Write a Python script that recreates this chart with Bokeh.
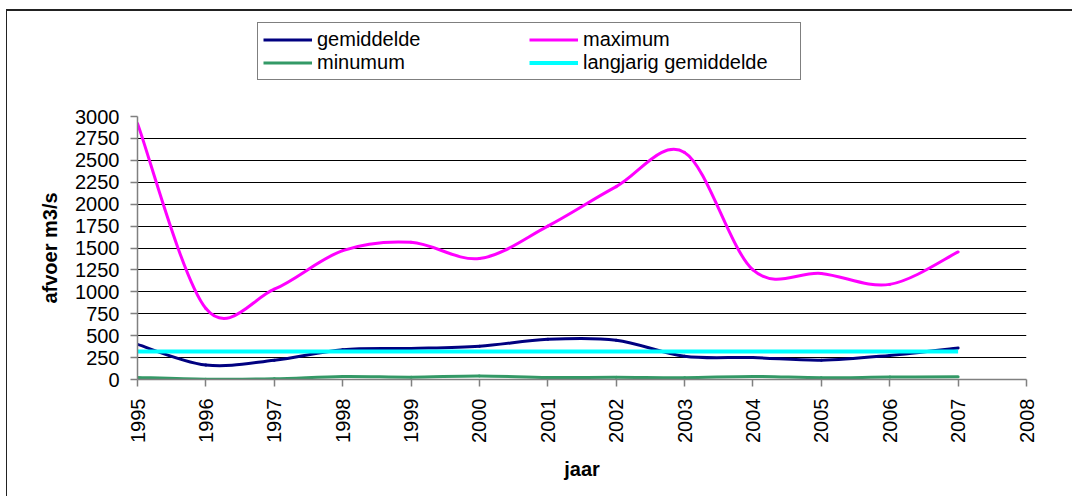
import math
from bokeh.plotting import figure
from bokeh.layouts import column
from bokeh.models import Range1d, FixedTicker, Legend, LegendItem
from bokeh.embed import file_html
from bokeh.resources import INLINE

# ---- data -------------------------------------------------------------
years = [1995, 1996, 1997, 1998, 1999, 2000, 2001, 2002, 2003, 2004, 2005, 2006, 2007]
gemiddelde = [400, 165, 220, 340, 355, 380, 458, 448, 265, 250, 220, 275, 360]
maximum = [2920, 810, 1030, 1470, 1565, 1380, 1750, 2200, 2590, 1250, 1210, 1085, 1455]
minumum = [23, 4, 8, 35, 27, 40, 23, 25, 20, 35, 20, 28, 30]
langjarig_gemiddelde = [318, 318, 318, 318, 318, 318, 318, 318, 318, 318, 318, 318, 318]

series_names = ["gemiddelde", "maximum", "minumum", "langjarig gemiddelde"]
series_colors = ["#000080", "#FF00FF", "#339966", "#00FFFF"]
series_widths = [3, 3, 3, 4]

x_ticks = [1995, 1996, 1997, 1998, 1999, 2000, 2001, 2002, 2003, 2004, 2005, 2006, 2007, 2008]
x_tick_labels = ["1995", "1996", "1997", "1998", "1999", "2000", "2001", "2002",
                 "2003", "2004", "2005", "2006", "2007", "2008"]
y_ticks = [0, 250, 500, 750, 1000, 1250, 1500, 1750, 2000, 2250, 2500, 2750, 3000]
y_tick_labels = ["0", "250", "500", "750", "1000", "1250", "1500", "1750", "2000",
                 "2250", "2500", "2750", "3000"]

FONT = "Liberation Sans"


def smooth_segments(xs, ys):
    """Excel-style smoothed line: cubic Bezier segments through the data points."""
    n = len(xs)
    seg = dict(x0=[], y0=[], x1=[], y1=[], cx0=[], cy0=[], cx1=[], cy1=[])
    for i in range(n - 1):
        im1 = max(i - 1, 0)
        ip2 = min(i + 2, n - 1)
        seg["x0"].append(xs[i]); seg["y0"].append(ys[i])
        seg["x1"].append(xs[i + 1]); seg["y1"].append(ys[i + 1])
        seg["cx0"].append(xs[i] + (xs[i + 1] - xs[im1]) / 6.0)
        seg["cy0"].append(ys[i] + (ys[i + 1] - ys[im1]) / 6.0)
        seg["cx1"].append(xs[i + 1] - (xs[ip2] - xs[i]) / 6.0)
        seg["cy1"].append(ys[i + 1] - (ys[ip2] - ys[i]) / 6.0)
    return seg


all_series = [gemiddelde, maximum, minumum, langjarig_gemiddelde]

# ---- legend strip (top); its frame is aligned with the chart frame ------
pl = figure(
    width=1065, height=75,
    x_range=Range1d(0, 1), y_range=Range1d(0, 1),
    output_backend="svg", toolbar_location=None,
    x_axis_location=None, y_axis_location=None,
    min_border_left=130, min_border_right=46, min_border_top=0, min_border_bottom=0,
    background_fill_color="white", border_fill_color="white",
)
pl.outline_line_color = None
pl.grid.visible = False
# key renderers (their data lie outside this strip's range, so only the legend shows)
key = [pl.line(years, vals, line_color=c, line_width=w)
       for vals, c, w in zip(all_series, series_colors, series_widths)]

legend = Legend(
    items=[LegendItem(label=name, renderers=[r]) for name, r in zip(series_names, key)],
    orientation="horizontal", ncols=2,
    location=(120, 6), padding=5, spacing=0, margin=0,
    glyph_width=49, glyph_height=23, label_height=23, label_standoff=5, label_width=212,
    label_text_font=FONT, label_text_font_size="20px", label_text_color="black",
    border_line_color="black", border_line_width=1,
    background_fill_color="white", background_fill_alpha=1.0,
)
pl.add_layout(legend)

# ---- main chart ---------------------------------------------------------
p = figure(
    width=1065, height=410,
    x_range=Range1d(1995, 2008), y_range=Range1d(0, 3000),
    output_backend="svg", toolbar_location=None,
    min_border_left=130, min_border_right=46, min_border_top=30, min_border_bottom=117,
    background_fill_color="white", border_fill_color="white",
)
p.outline_line_color = None

p.xaxis.ticker = FixedTicker(ticks=x_ticks)
p.xaxis.major_label_overrides = {t: l for t, l in zip(x_ticks, x_tick_labels)}
p.yaxis.ticker = FixedTicker(ticks=y_ticks)
p.yaxis.major_label_overrides = {t: l for t, l in zip(y_ticks, y_tick_labels)}
p.xaxis.major_label_orientation = math.pi / 2

for ax in (p.xaxis[0], p.yaxis[0]):
    ax.axis_line_color = "#808080"
    ax.axis_line_width = 1.5
    ax.major_tick_line_color = "#808080"
    ax.major_tick_line_width = 1.5
    ax.major_tick_in = 0
    ax.major_tick_out = 7
    ax.minor_tick_line_color = None
    ax.major_label_text_font = FONT
    ax.major_label_text_font_size = "20px"
    ax.major_label_text_color = "black"
    ax.axis_label_text_font = FONT
    ax.axis_label_text_font_size = "20px"
    ax.axis_label_text_font_style = "bold"
    ax.axis_label_text_color = "black"

p.xaxis.axis_label = "jaar"
p.yaxis.axis_label = "afvoer m3/s"
p.xaxis.major_label_standoff = 12
p.yaxis.major_label_standoff = 11
p.xaxis.axis_label_standoff = 12
p.yaxis.axis_label_standoff = 11

p.xgrid.visible = False
p.ygrid.grid_line_color = "black"
p.ygrid.grid_line_width = 1

for vals, c, w in zip(all_series[:3], series_colors[:3], series_widths[:3]):
    p.bezier(line_color=c, line_width=w, line_cap="round", **smooth_segments(years, vals))
p.line(years, langjarig_gemiddelde, line_color=series_colors[3], line_width=series_widths[3])

layout = column(
    pl, p, spacing=0,
    styles={"border-top": "2px solid #222222", "border-left": "1px solid #222222",
            "margin-left": "6px", "margin-top": "9px"},
)

open("out.html", "w").write(file_html(layout, INLINE))
